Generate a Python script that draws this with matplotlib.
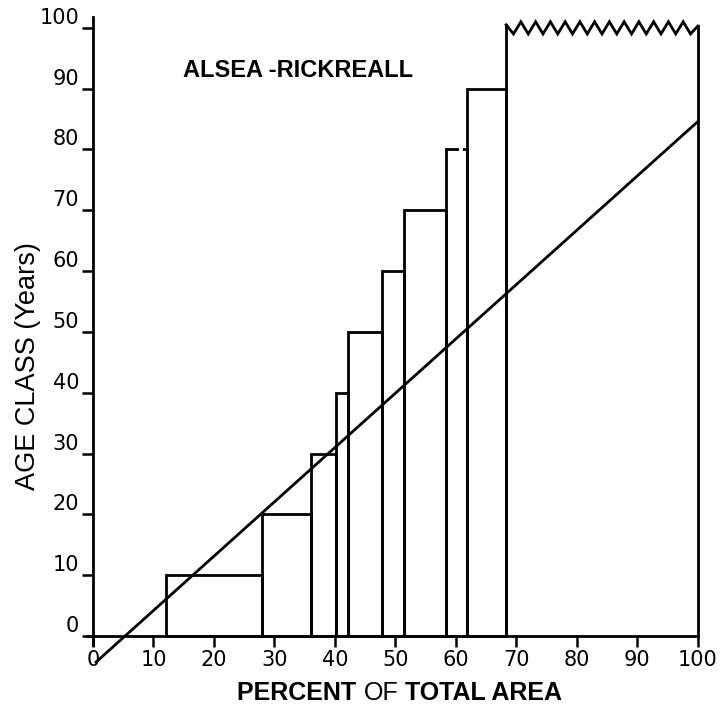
import numpy as np
import matplotlib.pyplot as plt

# age class bars: left edge, right edge (percent of total area), height (years)
bar_left = [12.0, 28.0, 36.1, 40.1, 42.1, 47.8, 51.4, 58.3, 61.9]
bar_right = [28.0, 36.1, 40.1, 42.1, 47.8, 51.4, 58.3, 61.9, 68.3]
bar_age = [10, 20, 30, 40, 50, 60, 70, 80, 90]

# oldest class (100+), drawn with a broken top
old_left = 68.3
old_right = 100.0
old_age = 100

# straight reference line
line_x = [0.5, 100.0]
line_y = [-4.3, 84.6]

xticks = [0, 10, 20, 30, 40, 50, 60, 70, 80, 90, 100]
yticks = [0, 10, 20, 30, 40, 50, 60, 70, 80, 90, 100]

fig = plt.figure(figsize=(7.26, 7.19), dpi=100)
ax = fig.add_axes([0.1156, 0.0732, 0.854, 0.905])
lw = 2.0

widths = np.array(bar_right) - np.array(bar_left)
ax.bar(bar_left, bar_age, width=widths, align='edge', fill=False,
       edgecolor='black', linewidth=lw)
# small break in the top of the 80 bar (paste-up cut in the original)
ax.plot([60.5, 61.2], [80, 80], color='white', lw=lw + 1, zorder=5,
        solid_capstyle='butt')

# last bar: sides plus zigzag top
ax.plot([old_left, old_left], [0, old_age + 0.5], color='black', lw=lw)
ax.plot([old_right, old_right], [0, old_age + 0.3], color='black', lw=lw)
n_teeth = 13
zx = np.linspace(old_left, old_right, 2 * n_teeth + 1)
zy = np.where(np.arange(len(zx)) % 2 == 0, old_age + 1.0, old_age - 1.0)
zy[0] = old_age + 0.5
zy[-1] = old_age + 0.3
ax.plot(zx, zy, color='black', lw=lw, solid_joinstyle='miter')

ax.plot(line_x, line_y, color='black', lw=lw)

# axes
ax.set_xlim(-1.5, 101)
ax.set_ylim(-5, 102)
for s in ['top', 'right', 'bottom']:
    ax.spines[s].set_visible(False)
ax.spines['left'].set_position(('data', 0))
ax.spines['left'].set_bounds(-1.5, 101.7)
ax.spines['left'].set_linewidth(lw)
ax.spines['bottom'].set_position(('data', 0))
# x axis has a small break just past 60
ax.plot([-1.2, 60.2], [0, 0], color='black', lw=lw, solid_capstyle='butt')
ax.plot([61.2, 100], [0, 0], color='black', lw=lw, solid_capstyle='butt')

ax.set_xticks(xticks)
ax.set_yticks(yticks)
ax.tick_params(axis='both', direction='out', length=8, width=1.8,
               labelsize=15, pad=2)
for t in ax.get_yticklabels():
    t.set_verticalalignment('bottom')

ax.text(14.8, 93.0, 'ALSEA -RICKREALL', fontsize=17, fontweight='bold',
        family='Liberation Sans', va='center', ha='left')

# x label: "OF" is set in the regular weight
t1 = fig.text(0.327, 0.027, 'PERCENT ', fontsize=18, fontweight='bold',
              family='Liberation Sans', ha='left', va='baseline')
t2 = ax.annotate('OF', xy=(1, 0), xycoords=t1, fontsize=18,
                 family='Liberation Sans', ha='left', va='bottom')
ax.annotate(' TOTAL AREA', xy=(1, 0), xycoords=t2, fontsize=18,
            fontweight='bold', family='Liberation Sans', ha='left', va='bottom')

fig.text(0.039, 0.491, 'AGE CLASS (Years)', fontsize=19.5, rotation=90,
         family='Liberation Sans', ha='center', va='center')

fig.savefig('out.png', dpi=100)
